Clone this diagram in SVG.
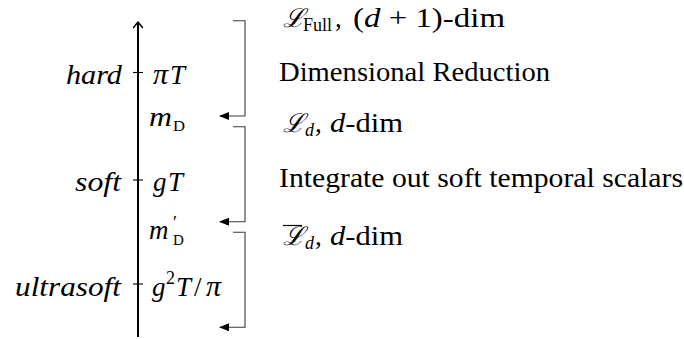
<svg xmlns="http://www.w3.org/2000/svg" width="684" height="339" viewBox="0 0 684 339">
<defs>
<style>
.br{fill:none;stroke:#3a3a3a;stroke-width:1.1}
.tick{stroke:#000;stroke-width:1.1}
</style>
<marker id="tri" viewBox="0 0 10 8" refX="9" refY="4" markerWidth="10" markerHeight="8" markerUnits="userSpaceOnUse" orient="auto">
<path d="M0,0 L10,4 L0,8 Z" fill="#000"/>
</marker>
</defs>
<rect width="684" height="339" fill="#fff"/>
<g id="axis">
<line x1="138" y1="337" x2="138" y2="23" stroke="#000" stroke-width="2"/>
<polyline points="133.5,27.5 138,22 142.5,27.5" fill="none" stroke="#000" stroke-width="1.5" stroke-linecap="round" stroke-linejoin="round"/>
<line class="tick" x1="133" y1="72.5" x2="143" y2="72.5"/>
<line class="tick" x1="133" y1="180" x2="143" y2="180"/>
<line class="tick" x1="133" y1="284" x2="143" y2="284"/>
</g>
<g id="connectors">
<polyline class="br" points="233,20.7 245,20.7 245,116 220,116" marker-end="url(#tri)"/>
<polyline class="br" points="233,126.7 245,126.7 245,221.7 220,221.7" marker-end="url(#tri)"/>
<polyline class="br" points="233,232.3 245,232.3 245,327.3 220,327.3" marker-end="url(#tri)"/>
</g>
<g font-family="Liberation Serif, serif" font-size="27" fill="#000">
<g id="scale-hard">
<text font-style="italic" x="122" y="83.5" text-anchor="end" textLength="56" lengthAdjust="spacingAndGlyphs">hard</text>
<text font-style="italic" x="153" y="83.5"><tspan font-size="30">π</tspan><tspan x="170">T</tspan></text>
</g>
<g id="scale-mD">
<text font-style="italic" x="149" y="126" textLength="23" lengthAdjust="spacingAndGlyphs">m</text>
<text font-size="15" x="173" y="131" textLength="12" lengthAdjust="spacingAndGlyphs">D</text>
</g>
<g id="scale-soft">
<text font-style="italic" x="121" y="191" text-anchor="end" textLength="46" lengthAdjust="spacingAndGlyphs">soft</text>
<text font-style="italic" x="153" y="191">g<tspan x="168">T</tspan></text>
</g>
<g id="scale-mDprime">
<text font-style="italic" x="149" y="239">m<tspan font-style="normal" font-size="18" x="173" y="229">′</tspan><tspan font-style="normal" font-size="15" x="173" y="245">D</tspan></text>
</g>
<g id="scale-ultrasoft">
<text font-style="italic" x="121" y="295.5" text-anchor="end" textLength="106" lengthAdjust="spacingAndGlyphs">ultrasoft</text>
<text font-style="italic" x="152" y="295.5">g<tspan font-style="normal" font-size="18" x="166" y="284">2</tspan><tspan x="176" y="295.5">T</tspan><tspan font-style="normal" x="194" y="295.5">/</tspan><tspan font-size="30" x="206" y="295.5">π</tspan></text>
</g>
<g id="theory-full">
<text x="283" y="27"><tspan font-family="DejaVu Serif, serif" font-style="italic" font-size="26">ℒ</tspan><tspan font-size="18" x="303" y="31">Full</tspan><tspan x="335" y="27">,</tspan></text>
<text x="353" y="27" textLength="152" lengthAdjust="spacingAndGlyphs">(<tspan font-style="italic">d</tspan> + 1)-dim</text>
</g>
<g id="step-dimred">
<text x="279" y="81" textLength="271" lengthAdjust="spacingAndGlyphs">Dimensional Reduction</text>
</g>
<g id="theory-d">
<text x="283" y="132"><tspan font-family="DejaVu Serif, serif" font-style="italic" font-size="26">ℒ</tspan><tspan font-size="18" font-style="italic" x="305" y="136">d</tspan><tspan x="315" y="132">,</tspan></text>
<text x="330" y="132" textLength="73" lengthAdjust="spacingAndGlyphs"><tspan font-style="italic">d</tspan>-dim</text>
</g>
<g id="step-integrate">
<text x="279" y="187" textLength="404" lengthAdjust="spacingAndGlyphs">Integrate out soft temporal scalars</text>
</g>
<g id="theory-dbar">
<line x1="283" y1="225.5" x2="302" y2="225.5" stroke="#000" stroke-width="1.2"/>
<text x="283" y="245"><tspan font-family="DejaVu Serif, serif" font-style="italic" font-size="26">ℒ</tspan><tspan font-size="18" font-style="italic" x="305" y="249">d</tspan><tspan x="315" y="245">,</tspan></text>
<text x="330" y="245" textLength="73" lengthAdjust="spacingAndGlyphs"><tspan font-style="italic">d</tspan>-dim</text>
</g>
</g>
</svg>
